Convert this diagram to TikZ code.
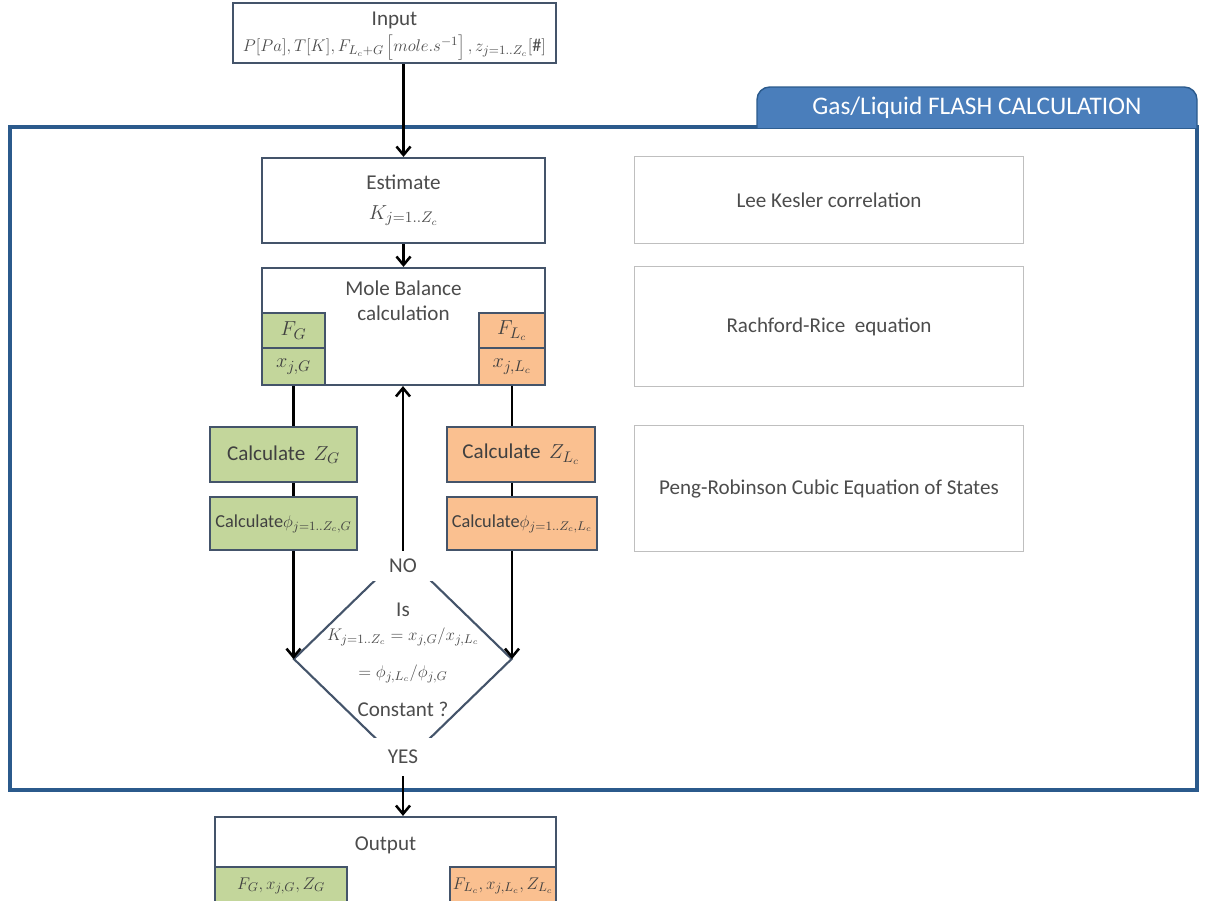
\documentclass[tikz,border=0pt]{standalone}
\usepackage{fontspec}
\setmainfont{Carlito}
\usetikzlibrary{shapes.geometric,arrows.meta}

\definecolor{boxline}{HTML}{44546A}
\definecolor{frameblue}{HTML}{2B5A8C}
\definecolor{tabblue}{HTML}{4A7EBB}
\definecolor{gasgreen}{HTML}{C3D69B}
\definecolor{liqorange}{HTML}{FAC090}
\definecolor{notegray}{HTML}{BFBFBF}

\newcommand{\mathsize}{\fontsize{13}{16}\selectfont}

\tikzset{
  box/.style={draw=boxline, line width=1.5pt, fill=white, inner sep=0pt},
  gasbox/.style={box, fill=gasgreen, text=black!75},
  liqbox/.style={box, fill=liqorange, text=black!75},
  notebox/.style={draw=notegray, line width=0.7pt, inner sep=0pt, text=black!70},
  tag/.style={fill=white, inner sep=0pt, text=black!70},
  small/.style={font=\mathsize},
  flow/.style={line width=1.8pt, black},
}

\begin{document}
\begin{tikzpicture}[x=0.025cm, y=-0.025cm, font=\fontsize{15}{18}\selectfont,
    >={Straight Barb[length=6pt,width=10pt]}]
  \useasboundingbox (0,0) rectangle (1212,901);
  \clip (0,0) rectangle (1212,901);

  % Flash block frame and tab
  \draw[frameblue, line width=2.2pt] (10,127) rectangle (1197,790);
  \draw[frameblue, fill=tabblue, line width=1pt, rounded corners=9pt]
    (757,128) -- (757,87) -- (1197,87) -- (1197,128);
  \node[text=white, font=\fontsize{18}{20}\selectfont] (tabtitle) at (977,108) {Gas/Liquid FLASH CALCULATION};

  % Input
  \node[box, minimum width=8.075cm, minimum height=1.5cm] (input) at (394.5,33) {};
  \node[align=center, text=black!70, inner sep=0pt] (inputtxt) at (394.5,36)
    {Input\\[1pt] {\mathsize$P[Pa],T[K],F_{L_c+G}\left[mole.s^{-1}\right],z_{j=1..Z_c}[\#]$}};

  % Estimate and mole balance
  \node[box, minimum width=7.075cm, minimum height=2.125cm, align=center, text=black!70] (estimate) at (403.5,200.5)
    {Estimate\\[3pt] $K_{j=1..Z_c}$};
  \node[box, minimum width=7.075cm, minimum height=2.925cm] (molebal) at (403.5,326.5) {};
  \node[align=center, text=black!70] (molebaltxt) at (403.5,301) {Mole Balance\\ calculation};
  \node[gasbox, minimum width=1.575cm, minimum height=0.875cm] (fg) at (293.5,330.5) {$F_G$};
  \node[gasbox, minimum width=1.575cm, minimum height=0.925cm] (xg) at (293.5,366.5) {$x_{j,G}$};
  \node[liqbox, minimum width=1.65cm, minimum height=0.875cm] (fl) at (512,330.5) {$F_{L_c}$};
  \node[liqbox, minimum width=1.65cm, minimum height=0.925cm] (xl) at (512,366.5) {$x_{j,L_c}$};

  % Gas and liquid side
  \node[gasbox, minimum width=3.675cm, minimum height=1.375cm] (zg) at (283.5,454.5) {Calculate\, $Z_G$};
  \node[gasbox, small, minimum width=3.675cm, minimum height=1.325cm] (phig) at (283.5,523.5) {Calculate$\phi_{j=1..Z_c,G}$};
  \node[liqbox, minimum width=3.7cm, minimum height=1.375cm] (zl) at (521,454.5) {Calculate\, $Z_{L_c}$};
  \node[liqbox, small, minimum width=3.75cm, minimum height=1.325cm] (phil) at (522,523.5) {Calculate$\phi_{j=1..Z_c,L_c}$};

  % Convergence test
  \node[diamond, draw=boxline, line width=1.5pt, minimum width=5.4625cm, minimum height=5.3cm, inner sep=0pt] (check) at (402.75,659) {};
  \node[tag, minimum width=1.6cm, minimum height=0.75cm] (no) at (403,566) {NO};
  \node[tag, minimum width=1.6cm, minimum height=0.95cm] (yes) at (403,757) {YES};
  \node[align=center, text=black!70] (checktxt) at (403,660)
    {Is\\[-1pt] {\mathsize$K_{j=1..Z_c}=x_{j,G}/x_{j,L_c}$}\\[8pt] {\mathsize$=\phi_{j,L_c}/\phi_{j,G}$}\\[10pt] Constant ?};

  % Output
  \node[box, minimum width=8.525cm, minimum height=2.2cm] (output) at (385.5,861) {};
  \node[text=black!70] (outputtxt) at (385.5,845) {Output};
  \node[gasbox, small, minimum width=3.3cm, minimum height=0.95cm] (outg) at (281,886) {$F_G,x_{j,G},Z_G$};
  \node[liqbox, small, minimum width=2.65cm, minimum height=0.95cm] (outl) at (503,886) {$F_{L_c},x_{j,L_c},Z_{L_c}$};

  % Models used
  \node[notebox, minimum width=9.7cm, minimum height=2.15cm] (lee) at (829,200) {Lee Kesler correlation};
  \node[notebox, minimum width=9.7cm, minimum height=2.975cm] (rr) at (829,326.5) {Rachford-Rice\ \ equation};
  \node[notebox, minimum width=9.7cm, minimum height=3.125cm] (pr) at (829,488.5) {Peng-Robinson Cubic Equation of States};

  % Flow
  \draw[flow, ->] (input.south -| estimate.north) -- (estimate.north);
  \draw[flow, ->] (estimate) -- (molebal);
  \draw[flow] (xg) -- (zg.north -| xg);
  \draw[flow] (zg.south -| xg) -- (phig.north -| xg);
  \draw[flow, ->] (phig.south -| xg) -- (check.west -| xg);
  \draw[flow] (xl) -- (zl.north -| xl);
  \draw[flow] (zl.south -| xl) -- (phil.north -| xl);
  \draw[flow, ->] (phil.south -| xl) -- (check.east -| xl);
  \draw[flow, ->] (no.north) -- (molebal.south -| no.north);
  \draw[flow, ->] (yes.south) -- (yes.south |- output.north);
\end{tikzpicture}
\end{document}
